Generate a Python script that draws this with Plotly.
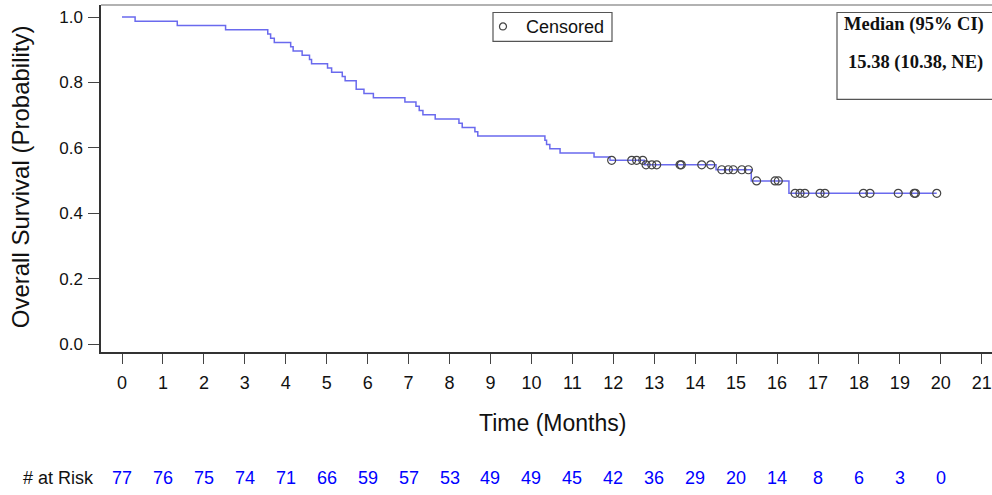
import plotly.graph_objects as go
import numpy as np

# Kaplan-Meier step data (time in months, survival probability after the step)
step_times = [0, 0.32, 1.35, 2.53, 3.56, 3.63, 3.72, 4.12, 4.18, 4.40, 4.58, 4.63,
              5.02, 5.12, 5.38, 5.45, 5.72, 5.91, 6.14, 6.91, 7.18, 7.26, 7.35, 7.65,
              8.23, 8.31, 8.62, 8.69, 10.33, 10.37, 10.45, 10.70, 11.53, 11.92,
              12.76, 14.51, 15.37, 16.29]
step_surv = [1.0, 0.987, 0.974, 0.961, 0.948, 0.935, 0.922, 0.909, 0.896, 0.883, 0.870, 0.857,
             0.844, 0.831, 0.818, 0.805, 0.779, 0.766, 0.753, 0.740, 0.727, 0.714, 0.701, 0.688,
             0.675, 0.662, 0.649, 0.636, 0.623, 0.610, 0.597, 0.584, 0.572, 0.562,
             0.548, 0.533, 0.499, 0.461]
last_time = 19.90

censor_times = [11.96, 12.45, 12.57, 12.72, 12.80, 12.94, 13.06, 13.63, 13.66, 14.16, 14.38,
                14.65, 14.81, 14.93, 15.14, 15.30, 15.50, 15.95, 16.03, 16.44, 16.56, 16.68,
                17.05, 17.17, 18.11, 18.27, 18.96, 19.35, 19.38, 19.90]

tick_months = list(range(0, 22))
risk_months = list(range(0, 21))
at_risk = [77, 76, 75, 74, 71, 66, 59, 57, 53, 49, 49, 45, 42, 36, 29, 20, 14, 8, 6, 3, 0]

legend_label = "Censored"
median_title = "Median (95% CI)"
median_text = "15.38 (10.38, NE)"

# build series
line_x = step_times + [last_time]
line_y = step_surv + [step_surv[-1]]
st = np.array(step_times)
sv = np.array(step_surv)
censor_y = [float(sv[np.searchsorted(st, t, side="right") - 1]) for t in censor_times]

SANS = "Liberation Sans, Arial, sans-serif"
SERIF = "Liberation Serif, Times New Roman, serif"

fig = go.Figure()
fig.add_trace(go.Scatter(x=line_x, y=line_y, mode="lines", line_shape="hv",
                         line=dict(color="#6a6aee", width=1.5), showlegend=False,
                         hoverinfo="skip"))
fig.add_trace(go.Scatter(x=censor_times, y=censor_y, mode="markers", name=legend_label,
                         showlegend=False,
                         marker=dict(symbol="circle-open", size=8,
                                     color="#444", line=dict(width=1.2))))

W, H = 992, 495
L, R, T, B = 101, 0, 4.5, 143
pw = W - L - R
ph = H - T - B

def px_x(p):
    return (p - L) / pw

def px_y(p):
    return (H - B - p) / ph

fig.update_layout(
    width=W, height=H,
    margin=dict(l=L, r=R, t=T, b=B, pad=0),
    plot_bgcolor="white", paper_bgcolor="white",
    font=dict(family=SANS, color="#111"),
    xaxis=dict(range=[-0.513, 21.25], tickmode="array", tickvals=tick_months,
               ticktext=[str(m) for m in tick_months], ticks="outside", ticklen=10,
               tickcolor="#444", tickwidth=1.2, showgrid=False, zeroline=False,
               showline=True, linecolor="#333", linewidth=1.5,
               tickfont=dict(size=18, family=SANS, color="#111"), ticklabelstandoff=4),
    yaxis=dict(range=[-0.0244, 1.037], tickmode="array", tickvals=[0, 0.2, 0.4, 0.6, 0.8, 1.0],
               ticktext=["0.0", "0.2", "0.4", "0.6", "0.8", "1.0"], ticks="outside",
               ticklen=11, tickcolor="#444", tickwidth=1.2, showgrid=False, zeroline=False,
               showline=True, linecolor="#333", linewidth=1.5,
               tickfont=dict(size=17, family=SANS, color="#111"), ticklabelstandoff=2),
    showlegend=False,
)

# top border of plot area (gray)
fig.add_shape(type="line", xref="paper", yref="paper", x0=0, x1=1.02, y0=1, y1=1,
              line=dict(color="#999", width=1.5))

# legend box (drawn manually)
fig.add_shape(type="rect", xref="paper", yref="paper", x0=px_x(493), x1=px_x(612),
              y0=px_y(41), y1=px_y(12), line=dict(color="#555", width=1.2),
              fillcolor="white", layer="above")
fig.add_shape(type="circle", xref="paper", yref="paper", x0=px_x(499.5), x1=px_x(506.5),
              y0=px_y(29.5), y1=px_y(22.5), line=dict(color="#444", width=1.2),
              layer="above")
fig.add_annotation(text=legend_label, xref="paper", yref="paper", x=px_x(524), y=px_y(26.5),
                   xanchor="left", yanchor="middle", showarrow=False,
                   font=dict(size=18, family=SANS, color="#111"))

# median box
fig.add_shape(type="rect", xref="paper", yref="paper", x0=px_x(837), x1=px_x(1010),
              y0=px_y(99), y1=px_y(12), line=dict(color="#555", width=1.2),
              fillcolor="white", layer="above")
fig.add_annotation(text="<b>" + median_title + "</b>", xref="paper", yref="paper",
                   x=px_x(913.5), y=px_y(24), xanchor="center", yanchor="middle",
                   showarrow=False, font=dict(family=SERIF, size=18.5, color="#111"))
fig.add_annotation(text="<b>" + median_text + "</b>", xref="paper", yref="paper",
                   x=px_x(915), y=px_y(62), xanchor="center", yanchor="middle",
                   showarrow=False, font=dict(family=SERIF, size=18.5, color="#111"))

# axis titles
fig.add_annotation(text="Time (Months)", xref="paper", yref="paper", x=px_x(552),
                   y=px_y(423), xanchor="center", yanchor="middle", showarrow=False,
                   font=dict(size=23, family=SANS, color="#111"))
fig.add_annotation(text="Overall Survival (Probability)", xref="paper", yref="paper",
                   x=px_x(20), y=px_y(177), xanchor="center", yanchor="middle",
                   textangle=-90, showarrow=False,
                   font=dict(size=24, family=SANS, color="#111"))

# at risk row
fig.add_annotation(text="# at Risk", xref="paper", yref="paper", x=px_x(58), y=px_y(478),
                   xanchor="center", yanchor="middle",
                   showarrow=False, font=dict(size=18, family=SANS, color="#111"))
for m, n in zip(risk_months, at_risk):
    fig.add_annotation(text=str(n), xref="x", yref="paper", x=m, y=px_y(478),
                       xanchor="center", yanchor="middle",
                       showarrow=False, font=dict(size=18, family=SANS, color="#0000ff"))

fig.write_html("out.html")
